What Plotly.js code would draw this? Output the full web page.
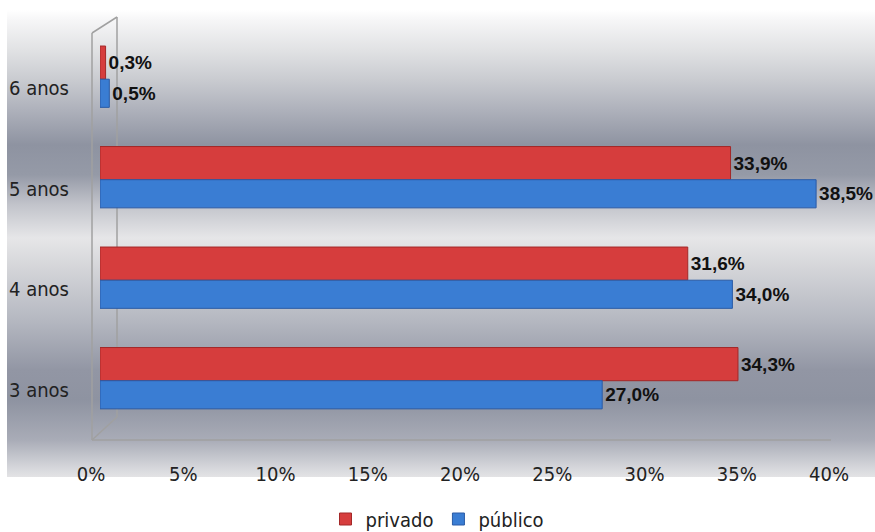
<!DOCTYPE html>
<html>
<head>
<meta charset="utf-8">
<script src="https://cdn.plot.ly/plotly-3.0.1.min.js"></script>
<style>
  html, body { margin: 0; padding: 0; background: #ffffff; }
  #wrap { position: relative; width: 875px; height: 532px; overflow: hidden; }
  #bg {
    position: absolute; left: 7px; top: 10px; width: 868px; height: 467px;
    background: linear-gradient(to bottom,
      #ffffff 0px, #f6f6f7 10px, #e1e2e4 40px, #c9cbd0 70px, #aeb1bb 100px,
      #8e93a1 135px, #959aa7 165px, #c2c4cb 195px, #e6e6e8 228px, #d3d4d8 260px,
      #b5b8c1 310px, #9296a4 360px, #8e93a1 390px, #a9acb7 430px, #d9dade 460px, #e3e3e5 467px);
  }
  #chart { position: absolute; left: 0; top: 0; width: 875px; height: 532px; }
</style>
</head>
<body>
<div id="wrap">
  <div id="bg"></div>
  <div id="chart"></div>
</div>
<script>
// ---- data ----
const categories = ['3 anos', '4 anos', '5 anos', '6 anos'];
const privado = [34.3, 31.6, 33.9, 0.3];
const publico = [27.0, 34.0, 38.5, 0.5];
const seriesNames = ['privado', 'público'];
const xTickValues = [0, 5, 10, 15, 20, 25, 30, 35, 40];
const xTickLabels = ['0%', '5%', '10%', '15%', '20%', '25%', '30%', '35%', '40%'];

// ---- helpers ----
const W = 875, H = 532;
const px = x => x / W;
const py = y => (H - y) / H;
const fmt = v => v.toFixed(1).replace('.', ',') + '%';

const narrow = '"Liberation Sans Narrow", "Arial Narrow", "DejaVu Sans Condensed", sans-serif';
const boldFont = { family: '"Liberation Sans", Arial, sans-serif', size: 19, color: '#111111', weight: 'bold' };

const traces = [
  {
    type: 'bar', orientation: 'h', name: seriesNames[0],
    y: categories, x: privado,
    text: privado.map(fmt), textposition: 'outside', cliponaxis: false,
    textfont: boldFont,
    marker: { color: '#d63d3d', line: { color: '#a32828', width: 1 } },
    width: 0.33, offset: 0.09,
    hoverinfo: 'skip'
  },
  {
    type: 'bar', orientation: 'h', name: seriesNames[1],
    y: categories, x: publico,
    text: publico.map(fmt), textposition: 'outside', cliponaxis: false,
    textfont: boldFont,
    marker: { color: '#3a7dd3', line: { color: '#2a5ba6', width: 1 } },
    width: 0.28, offset: -0.19,
    hoverinfo: 'skip'
  },
  {
    type: 'scatter', x: [], y: [], xaxis: 'x2', yaxis: 'y2',
    showlegend: false, hoverinfo: 'skip'
  }
];

const wallStyle = { color: '#a0a0a0', width: 1.5 };
function seg(x0, y0, x1, y1) {
  return { type: 'line', xref: 'paper', yref: 'paper', layer: 'below',
    x0: px(x0), y0: py(y0), x1: px(x1), y1: py(y1), line: wallStyle };
}

const layout = {
  width: W, height: H,
  margin: { l: 0, r: 0, t: 0, b: 0, autoexpand: false },
  paper_bgcolor: 'rgba(0,0,0,0)',
  plot_bgcolor: 'rgba(0,0,0,0)',
  barmode: 'overlay',
  showlegend: true,
  xaxis: {
    domain: [px(100), px(844)], range: [0, 40],
    showticklabels: false, showgrid: false, zeroline: false, showline: false,
    fixedrange: true
  },
  yaxis: {
    type: 'category', categoryorder: 'array', categoryarray: categories,
    domain: [py(440), py(38)], range: [-0.5, 3.5],
    showgrid: false, zeroline: false, showline: false, ticks: '',
    ticklabelstandoff: 30,
    tickfont: { family: narrow, size: 20, color: '#222222' },
    fixedrange: true
  },
  xaxis2: {
    domain: [px(91), px(829)], range: [0, 40], anchor: 'y2',
    tickmode: 'array', tickvals: xTickValues, ticktext: xTickLabels,
    showgrid: false, zeroline: false, showline: false, ticks: '',
    tickfont: { family: narrow, size: 20, color: '#222222' },
    fixedrange: true
  },
  yaxis2: {
    domain: [py(460), py(38)], range: [0, 1], visible: false, fixedrange: true
  },
  legend: {
    orientation: 'h', x: 0.5, xanchor: 'center', y: py(519), yanchor: 'middle',
    font: { family: narrow, size: 20, color: '#222222' },
    bgcolor: 'rgba(0,0,0,0)', itemwidth: 30, traceorder: 'normal'
  },
  shapes: [
    seg(92, 33, 92, 440),
    seg(117, 17, 117, 417),
    seg(92, 33, 117, 17),
    seg(92, 440, 117, 417),
    seg(92, 440, 831, 440)
  ]
};

Plotly.newPlot('chart', traces, layout, { displayModeBar: false, staticPlot: true });
</script>
</body>
</html>
